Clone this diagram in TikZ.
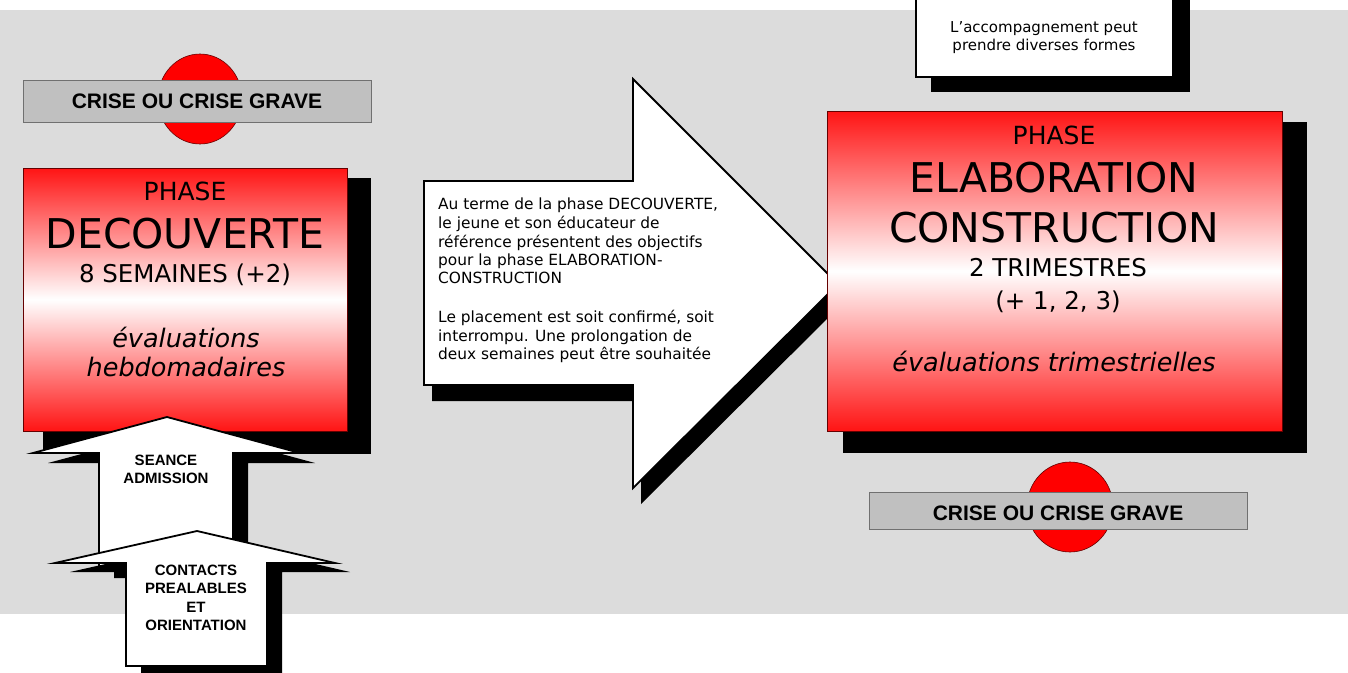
\documentclass[tikz,border=0pt]{standalone}
\usepackage{fontspec}
\setmainfont{DejaVu Sans}
\newfontfamily\hv{Liberation Sans}
\definecolor{bggray}{HTML}{DCDCDC}
\definecolor{barfill}{HTML}{C0C0C0}
\definecolor{barline}{HTML}{707070}
\definecolor{pred}{HTML}{FF1414}
\begin{document}
\begin{tikzpicture}[x=1pt,y=-1pt,
  shadowfill/.style={fill=black,draw=none},
  phasebox/.style={draw=red!40!black,line width=0.8pt,top color=pred,bottom color=pred,middle color=white},
  arrowshape/.style={draw=black,fill=white,line width=1.8pt,line join=miter},
  whitebox/.style={draw=black,fill=white,line width=1.8pt},
  crisebar/.style={fill=barfill,draw=barline,line width=1pt},
  crisedot/.style={fill=red,draw=black!60!red,line width=0.6pt},
  crisetext/.style={anchor=base,inner sep=0pt,font=\hv\bfseries\fontsize{21}{24}\selectfont},
  labeltext/.style={anchor=base,inner sep=0pt,font=\hv\bfseries\fontsize{15}{18}\selectfont},
  bodytext/.style={anchor=base west,inner sep=0pt,font=\fontsize{15.4}{18}\selectfont},
  ctext/.style={anchor=base,inner sep=0pt,font=\fontsize{15}{18}\selectfont},
  phasesmall/.style={anchor=base,inner sep=0pt,font=\fontsize{25}{30}\selectfont},
  phasebig/.style={anchor=base,inner sep=0pt,font=\fontsize{41}{48}\selectfont},
  phasemid/.style={anchor=base,inner sep=0pt,font=\fontsize{24.5}{29}\selectfont},
  phaseit/.style={anchor=base,inner sep=0pt,font=\itshape\fontsize{25.5}{29}\selectfont}]
\useasboundingbox (0,0) rectangle (1348,672);
\clip (0,0) rectangle (1348,672);
\fill[white] (0,0) rectangle (1348,672);
\fill[bggray] (0,10) rectangle (1348,614);

% accompagnement box
\fill[shadowfill] (931,-10) rectangle (1190,92);
\draw[whitebox] (916,-10) rectangle (1173,77);
\node[ctext] (acc1) at (1044,32) {L’accompagnement peut};
\node[ctext] (acc2) at (1044,50) {prendre diverses formes};

% left crise
\draw[crisedot] (200,99) ellipse [x radius=42, y radius=45];
\draw[crisebar] (23,80) rectangle (371,122);
\node[crisetext] (crise1) at (197,108) {CRISE OU CRISE GRAVE};

% phase decouverte
\fill[shadowfill] (43,178) rectangle (371,454);
\draw[phasebox] (23,168) rectangle (347,431);
\node[phasesmall] (d1) at (185,200) {PHASE};
\node[phasebig] (d2) at (185,248) {DECOUVERTE};
\node[phasemid] (d3) at (185,282) {8 SEMAINES (+2)};
\node[phaseit] (d4) at (186,347) {évaluations};
\node[phaseit] (d5) at (186,376) {hebdomadaires};

% middle arrow
\begin{scope}[shift={(8,16)}]
\fill[shadowfill] (424,181) -- (633,181) -- (633,79) -- (838,284) -- (633,488) -- (633,385) -- (424,385) -- cycle;
\end{scope}
\draw[arrowshape] (424,181) -- (633,181) -- (633,79) -- (838,284) -- (633,488) -- (633,385) -- (424,385) -- cycle;
\node[bodytext] (t1) at (438,209) {Au terme de la phase DECOUVERTE,};
\node[bodytext] (t2) at (438,228) {le jeune et son éducateur de};
\node[bodytext] (t3) at (438,247) {référence présentent des objectifs};
\node[bodytext] (t4) at (438,265) {pour la phase ELABORATION-};
\node[bodytext] (t5) at (438,283) {CONSTRUCTION};
\node[bodytext] (t6) at (438,322) {Le placement est soit confirmé, soit};
\node[bodytext] (t7) at (438,341) {interrompu. Une prolongation de};
\node[bodytext] (t8) at (438,359) {deux semaines peut être souhaitée};

% phase elaboration
\fill[shadowfill] (843,122) rectangle (1307,453);
\draw[phasebox] (827,111) rectangle (1282,431);
\node[phasesmall] (e1) at (1054,144) {PHASE};
\node[phasebig] (e2) at (1054,192) {ELABORATION};
\node[phasebig] (e3) at (1054,242) {CONSTRUCTION};
\node[phasemid] (e4) at (1058,276) {2 TRIMESTRES};
\node[phasemid] (e5) at (1058,309) {(+ 1, 2, 3)};
\node[phaseit] (e6) at (1054,371) {évaluations trimestrielles};

% right crise
\draw[crisedot] (1070,507) ellipse [x radius=43, y radius=45];
\draw[crisebar] (869,492) rectangle (1247,529);
\node[crisetext] (crise2) at (1058,520) {CRISE OU CRISE GRAVE};

% seance admission arrow
\begin{scope}[shift={(15,10)}]
\fill[shadowfill] (99,568) -- (99,453) -- (33,453) -- (167,417) -- (300,453) -- (233,453) -- (233,568) -- cycle;
\end{scope}
\draw[arrowshape] (99,568) -- (99,453) -- (33,453) -- (167,417) -- (300,453) -- (233,453) -- (233,568) -- cycle;
\node[labeltext] (s1) at (166,465) {SEANCE};
\node[labeltext] (s2) at (166,483) {ADMISSION};

% contacts arrow
\begin{scope}[shift={(15,9)}]
\fill[shadowfill] (126,666) -- (126,563) -- (55,563) -- (197,531) -- (335,563) -- (267,563) -- (267,666) -- cycle;
\end{scope}
\draw[arrowshape] (126,666) -- (126,563) -- (55,563) -- (197,531) -- (335,563) -- (267,563) -- (267,666) -- cycle;
\node[labeltext] (c1) at (196,575) {CONTACTS};
\node[labeltext] (c2) at (196,593) {PREALABLES};
\node[labeltext] (c3) at (196,612) {ET};
\node[labeltext] (c4) at (196,630) {ORIENTATION};
\end{tikzpicture}
\end{document}
